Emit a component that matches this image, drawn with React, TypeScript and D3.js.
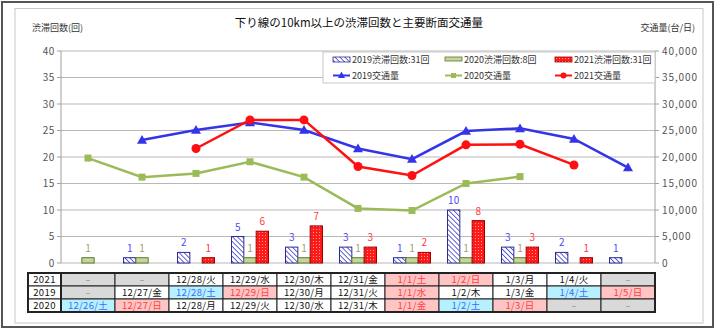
import React from 'react';
import * as d3 from 'd3';

const categories = ['d0', 'd1', 'd2', 'd3', 'd4', 'd5', 'd6', 'd7', 'd8', 'd9', 'd10'];
const series = ['2019', '2020', '2021'];
const jam2019: (number | null)[] = [null, 1, 2, 5, 3, 3, 1, 10, 3, 2, 1];
const jam2020: (number | null)[] = [1, 1, null, 1, 1, 1, 1, 1, 1, null, null];
const jam2021: (number | null)[] = [null, null, 1, 6, 7, 3, 2, 8, 3, 1, null];
const traffic2019: (number | null)[] = [null, 23200, 25100, 26500, 25100, 21600, 19600, 24900, 25400, 23400, 18000];
const traffic2020: (number | null)[] = [19800, 16200, 16900, 19100, 16200, 10300, 9900, 15000, 16300, null, null];
const traffic2021: (number | null)[] = [null, null, 21600, 27000, 27000, 18200, 16500, 22300, 22400, 18500, null];
const leftTicks = [0, 5, 10, 15, 20, 25, 30, 35, 40];
const rightTicks = [0, 5000, 10000, 15000, 20000, 25000, 30000, 35000, 40000];
const title = '下り線の10km以上の渋滞回数と主要断面交通量';
const leftTitle = '渋滞回数(回)';
const rightTitle = '交通量(台/日)';
const legendBars = ['2019渋滞回数:31回', '2020渋滞回数:8回', '2021渋滞回数:31回'];
const legendLines = ['2019交通量', '2020交通量', '2021交通量'];
// table: n normal, s saturday, h holiday, x none
const rowLabels = ['2021', '2019', '2020'];
const row2021 = ['–', '–', '12/28/火', '12/29/水', '12/30/木', '12/31/金', '1/1/土', '1/2/日', '1/3/月', '1/4/火', '–'];
const row2021Type = ['x', 'x', 'n', 'n', 'n', 'n', 'h', 'h', 'n', 'n', 'x'];
const row2019 = ['–', '12/27/金', '12/28/土', '12/29/日', '12/30/月', '12/31/火', '1/1/水', '1/2/木', '1/3/金', '1/4/土', '1/5/日'];
const row2019Type = ['x', 'n', 's', 'h', 'n', 'n', 'h', 'n', 'n', 's', 'h'];
const row2020 = ['12/26/土', '12/27/日', '12/28/月', '12/29/火', '12/30/水', '12/31/木', '1/1/金', '1/2/土', '1/3/日', '–', '–'];
const row2020Type = ['s', 'h', 'n', 'n', 'n', 'n', 'h', 's', 'h', 'x', 'x'];

const FONT = "'Noto Sans CJK JP', 'Noto Sans', sans-serif";

export default function App() {
  const W = 720, H = 331;
  const x0 = 61, x1 = 655, yTop = 51, yBot = 263;
  const x = d3.scaleBand<string>().domain(categories).range([x0, x1]).padding(0);
  const xs = d3.scaleBand<string>().domain(series).range([-18.5, 18.5]).padding(0);
  const yL = d3.scaleLinear().domain([0, 40]).range([yBot, yTop]);
  const yR = d3.scaleLinear().domain([0, 40000]).range([yBot, yTop]);
  const cx = (i: number) => (x(categories[i]) as number) + x.bandwidth() / 2;

  const jams = [jam2019, jam2020, jam2021];
  const barFills = ['url(#hatch2019)', '#c4d79b', 'url(#dots2021)'];
  const barStrokes = ['#2b2b8f', '#5f7530', '#a00000'];
  const labelColors = ['#4b4bf0', '#a0a070', '#ff3c3c'];

  const traffics = [traffic2019, traffic2020, traffic2021];
  const lineColors = ['#3434e8', '#9bbb59', '#ff1010'];

  const lineGen = d3.line<[number, number | null]>()
    .defined(d => d[1] !== null)
    .x(d => cx(d[0]))
    .y(d => yR(d[1] as number));

  const marker = (k: number, px: number, py: number, key: string) => {
    const c = lineColors[k];
    if (k === 0) {
      const s = 5;
      return <path key={key} d={`M${px},${py - s} L${px + s},${py + s * 0.75} L${px - s},${py + s * 0.75} Z`} fill={c} />;
    }
    if (k === 1) return <rect key={key} x={px - 3.5} y={py - 3.5} width={7} height={7} fill={c} />;
    return <circle key={key} cx={px} cy={py} r={4.5} fill={c} />;
  };

  const tableTop = 273, rowH = 13, labelX = 28;
  const rows = [row2021, row2019, row2020];
  const rowTypes = [row2021Type, row2019Type, row2020Type];
  const cellFill: Record<string, string> = { n: '#ffffff', s: '#b7f1ff', h: '#ffc4c4', x: '#d9d9d9' };
  const cellText: Record<string, string> = { n: '#111111', s: '#3a6cff', h: '#ff4040', x: '#888888' };

  const legX = 323, legY = 52, legW = 332, legH = 31;
  const legCols = [333, 445, 555];

  return (
    <div style={{ position: 'absolute', left: 0, top: 0 }}>
      <svg width={W} height={H} style={{ display: 'block', fontFamily: FONT }}>
        <defs>
          <pattern id="hatch2019" patternUnits="userSpaceOnUse" width={3.5} height={3.5} patternTransform="rotate(-45)">
            <rect width={3.5} height={3.5} fill="#ffffff" />
            <line x1={0} y1={0} x2={0} y2={3.5} stroke="#3c3cd0" strokeWidth={1.6} />
          </pattern>
          <pattern id="dots2021" patternUnits="userSpaceOnUse" width={3} height={3}>
            <rect width={3} height={3} fill="#ff1a1a" />
            <rect x={1} y={1} width={1} height={1} fill="#ff9a9a" />
          </pattern>
        </defs>
        <rect x={0} y={0} width={W} height={H} fill="#ffffff" />
        <rect x={2} y={2} width={711} height={325} fill="none" stroke="#555555" strokeWidth={2} />
        <rect x={15} y={8.5} width={688} height={314.5} fill="none" stroke="#c8c8c8" strokeWidth={1} />

        <text x={359} y={27} textAnchor="middle" fontSize={11.5} fill="#111">{title}</text>
        <text x={32} y={31} fontSize={9} fill="#333">{leftTitle}</text>
        <text x={695} y={31} textAnchor="end" fontSize={9} fill="#333">{rightTitle}</text>

        {/* gridlines */}
        {leftTicks.map(t => (
          <line key={'g' + t} x1={x0} x2={x1} y1={yL(t)} y2={yL(t)} stroke="#b8b8b8" strokeWidth={1} />
        ))}
        <line x1={x0} x2={x0} y1={yTop} y2={yBot} stroke="#a0a0a0" />
        <line x1={x1} x2={x1} y1={yTop} y2={yBot} stroke="#a0a0a0" />
        {leftTicks.map(t => (
          <g key={'l' + t}>
            <line x1={x0 - 4} x2={x0} y1={yL(t)} y2={yL(t)} stroke="#a0a0a0" />
            <text x={55} y={yL(t) + 3.5} textAnchor="end" fontSize={10} letterSpacing={0.6} fill="#555">{t}</text>
          </g>
        ))}
        {rightTicks.map(t => (
          <g key={'r' + t}>
            <line x1={x1} x2={x1 + 4} y1={yR(t)} y2={yR(t)} stroke="#a0a0a0" />
            <text x={662} y={yR(t) + 3.5} fontSize={10} letterSpacing={0.9} fill="#555">{d3.format(',')(t)}</text>
          </g>
        ))}

        {/* bars */}
        {jams.map((arr, k) => arr.map((v, i) => {
          if (v === null) return null;
          const bx = cx(i) + (xs(series[k]) as number);
          const bw = xs.bandwidth();
          return (
            <g key={`b${k}-${i}`}>
              <rect x={bx} y={yL(v)} width={bw} height={yBot - yL(v)} fill={barFills[k]} stroke={barStrokes[k]} strokeWidth={1} />
              <text x={bx + bw / 2} y={yL(v) - 6} textAnchor="middle" fontSize={10} fill={labelColors[k]}>{v}</text>
            </g>
          );
        }))}

        {/* lines */}
        {traffics.map((arr, k) => {
          const pts: [number, number | null][] = arr.map((v, i) => [i, v]);
          return (
            <g key={'ln' + k}>
              <path d={lineGen(pts) || ''} fill="none" stroke={lineColors[k]} strokeWidth={2.5} />
              {arr.map((v, i) => v === null ? null : marker(k, cx(i), yR(v), `m${k}-${i}`))}
            </g>
          );
        })}

        {/* legend */}
        <rect x={legX} y={legY} width={legW} height={legH} fill="#ffffff" stroke="#c8c8c8" />
        {legendBars.map((t, k) => (
          <g key={'lb' + k}>
            <rect x={legCols[k]} y={legY + 5} width={17} height={k === 1 ? 4 : 5} fill={barFills[k]} stroke={barStrokes[k]} strokeWidth={0.8} />
            <text x={legCols[k] + 19} y={legY + 11} fontSize={9} fill="#333">{t}</text>
          </g>
        ))}
        {legendLines.map((t, k) => (
          <g key={'ll' + k}>
            <line x1={legCols[k]} x2={legCols[k] + 17} y1={legY + 23.5} y2={legY + 23.5} stroke={lineColors[k]} strokeWidth={2} />
            {k === 0 ? <path d={`M${legCols[k] + 8.5},${legY + 19.5} L${legCols[k] + 12},${legY + 26} L${legCols[k] + 5},${legY + 26} Z`} fill={lineColors[k]} /> :
              k === 1 ? <rect x={legCols[k] + 6} y={legY + 21} width={5} height={5} fill={lineColors[k]} /> :
                <circle cx={legCols[k] + 8.5} cy={legY + 23.5} r={3} fill={lineColors[k]} />}
            <text x={legCols[k] + 19} y={legY + 27} fontSize={9} fill="#333">{t}</text>
          </g>
        ))}

        {/* table */}
        {rows.map((row, r) => (
          <g key={'tr' + r}>
            <rect x={labelX} y={tableTop + r * rowH} width={x0 - labelX} height={rowH} fill="#ffffff" stroke="#222" strokeWidth={1} />
            <text x={(labelX + x0) / 2} y={tableTop + r * rowH + 10} textAnchor="middle" fontSize={9.5} letterSpacing={0.4} fill="#111">{rowLabels[r]}</text>
            {row.map((c, i) => {
              const tp = rowTypes[r][i];
              const cxl = x(categories[i]) as number;
              return (
                <g key={`tc${r}-${i}`}>
                  <rect x={cxl} y={tableTop + r * rowH} width={x.bandwidth()} height={rowH} fill={cellFill[tp]} stroke="#222" strokeWidth={1} />
                  <text x={cxl + x.bandwidth() / 2} y={tableTop + r * rowH + 10} textAnchor="middle" fontSize={tp === 'x' ? 9 : 9.5} letterSpacing={0.3} fill={cellText[tp]}>{c}</text>
                </g>
              );
            })}
          </g>
        ))}
        <rect x={labelX} y={tableTop} width={x1 - labelX} height={rowH * 3} fill="none" stroke="#222" strokeWidth={2} />
        <line x1={x0} x2={x0} y1={tableTop} y2={tableTop + rowH * 3} stroke="#222" strokeWidth={2} />
      </svg>
    </div>
  );
}
